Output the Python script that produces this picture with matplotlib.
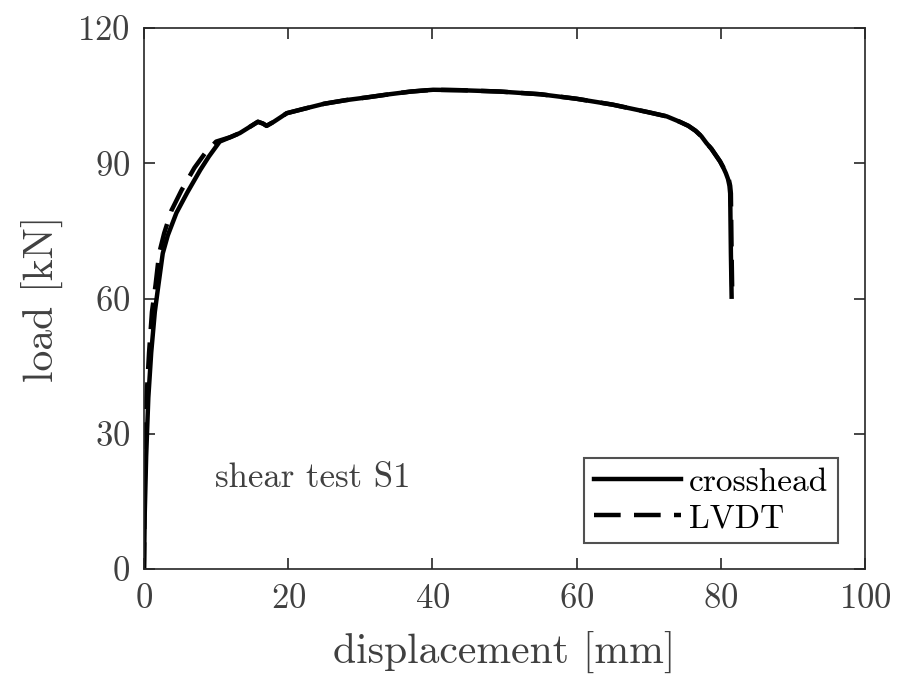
import numpy as np
import matplotlib
matplotlib.use("Agg")
import matplotlib.pyplot as plt

plt.rcParams["font.family"] = ["cmr10", "DejaVu Serif"]
plt.rcParams["axes.formatter.use_mathtext"] = True
plt.rcParams["mathtext.fontset"] = "cm"

# crosshead displacement [mm] vs load [kN]
x_cross = [0.0, 0.1, 0.3, 0.6, 1.0, 1.5, 2.0, 2.6, 3.3, 4.5, 6.0, 7.8, 9.0, 10.5, 12.0,
           13.3, 14.8, 15.8, 16.5, 17.0, 18.0, 19.8, 22.0, 25.0, 28.0, 30.9, 34.0,
           37.0, 40.1, 44.0, 49.4, 55.0, 60.0, 65.0, 70.0, 72.5, 74.3, 75.5, 76.5,
           77.3, 78.0, 78.7, 79.3, 79.9, 80.3, 80.7, 81.0, 81.2, 81.3, 81.4, 81.5]
y_cross = [0.0, 12.0, 25.0, 38.0, 48.0, 57.0, 63.0, 70.0, 74.0, 79.0, 83.5, 88.5, 91.5,
           94.8, 95.8, 96.7, 98.2, 99.2, 98.8, 98.3, 99.2, 101.1, 102.0, 103.2, 104.0,
           104.6, 105.3, 105.9, 106.3, 106.2, 105.9, 105.3, 104.3, 103.0, 101.3, 100.4,
           99.2, 98.3, 97.2, 96.0, 94.5, 93.2, 91.8, 90.4, 89.2, 87.8, 86.5, 85.0, 83.3,
           70.0, 60.4]

# LVDT displacement [mm] vs load [kN]
x_lvdt = [0.0, 0.05, 0.15, 0.35, 0.7, 1.1, 1.6, 2.1, 2.8, 3.8, 5.2, 7.0, 8.5, 10.0,
          12.0, 13.3, 14.8, 15.8, 16.5, 17.0, 18.0, 19.8, 22.0, 25.0, 28.0, 30.9,
          34.0, 37.0, 40.1, 44.0, 49.4, 55.0, 60.0, 65.0, 70.0, 72.5, 74.3, 75.5,
          76.5, 77.3, 78.0, 78.7, 79.3, 79.9, 80.3, 80.7, 81.1, 81.3, 81.4, 81.5, 81.6]
y_lvdt = [0.0, 12.0, 25.0, 38.0, 48.0, 57.0, 63.0, 70.0, 74.5, 79.5, 84.0, 89.0, 92.3,
          94.8, 95.8, 96.7, 98.2, 99.2, 98.8, 98.3, 99.2, 101.1, 102.0, 103.2, 104.0,
          104.6, 105.3, 105.9, 106.3, 106.2, 105.9, 105.3, 104.3, 103.0, 101.3, 100.4,
          99.2, 98.3, 97.2, 96.0, 94.5, 93.2, 91.8, 90.4, 89.2, 87.8, 86.5, 85.0, 83.3,
          70.0, 60.0]

gray = "#404040"

fig = plt.figure(figsize=(8.97, 6.75), dpi=100)
ax = fig.add_axes([144 / 897, 1 - 569 / 675, (865 - 144) / 897, (569 - 28) / 675])

ax.plot(x_cross, y_cross, color="black", lw=3.2, label="crosshead",
        solid_joinstyle="round")
ax.plot(x_lvdt, y_lvdt, color="black", lw=3.2, ls=(0, (6, 3)), label="LVDT")

ax.set_xlim(0, 100)
ax.set_ylim(0, 120)
ax.set_xticks([0, 20, 40, 60, 80, 100])
ax.set_yticks([0, 30, 60, 90, 120])
ax.tick_params(direction="in", top=True, right=True, length=8, width=1.2,
               colors="#262626", labelcolor=gray, labelsize=25, pad=10)
for s in ax.spines.values():
    s.set_color("#262626")
    s.set_linewidth(1.2)

ax.set_xlabel("displacement [mm]", fontsize=30, color=gray, labelpad=12)
ax.set_ylabel("load [kN]", fontsize=30, color=gray, labelpad=10)

ax.text(9.8, 20.2, "shear test S1", fontsize=25, color=gray, va="center")

leg = ax.legend(loc="lower right", bbox_to_anchor=(0.963, 0.048), fontsize=24,
                frameon=True, fancybox=False, handlelength=2.6, handletextpad=0.25,
                borderpad=0.3, labelspacing=0.2, borderaxespad=0)
leg.get_frame().set_edgecolor("#262626")
leg.get_frame().set_linewidth(1.5)
for t in leg.get_texts():
    t.set_color("black")

fig.savefig("out.png", dpi=100)
